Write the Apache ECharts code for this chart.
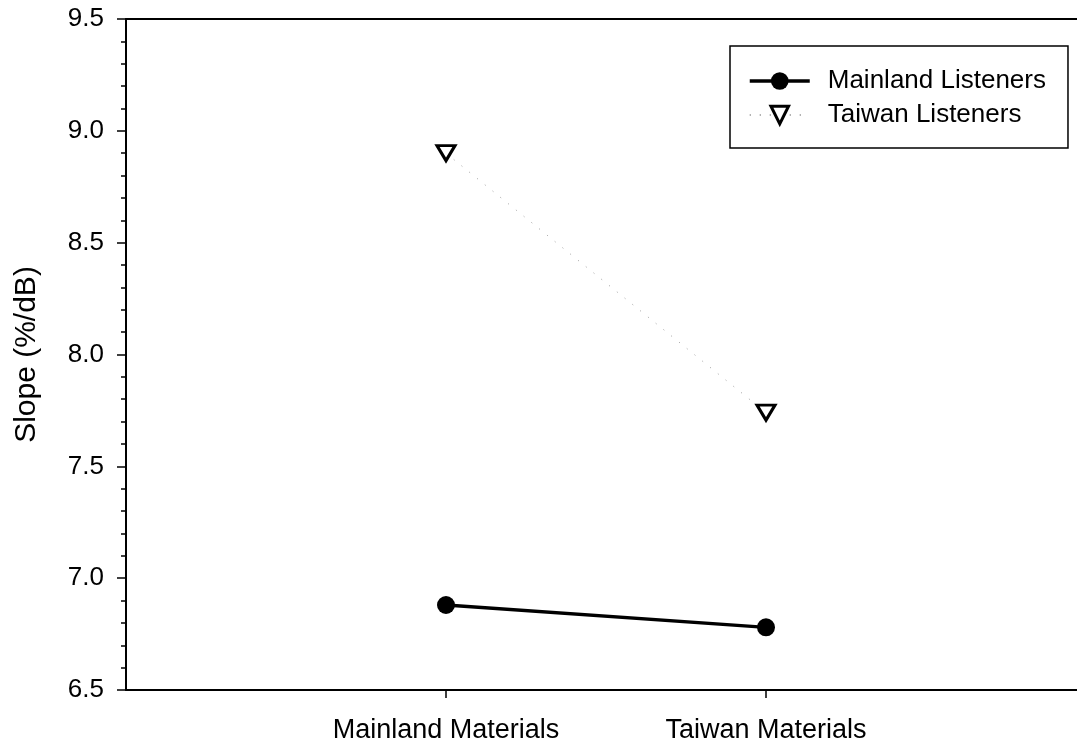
<!DOCTYPE html>
<html lang="en">
<head>
  <meta charset="UTF-8">
  <title>Slope by Materials - ECharts</title>
  <script src="https://cdn.jsdelivr.net/npm/echarts@6.0.0/dist/echarts.min.js"></script>
  <style>
    html, body { margin: 0; padding: 0; background: #fff; }
  </style>
</head>
<body>
  <!-- Chart container -->
  <div id="main" style="width: 1077px; height: 748px;"></div>

  <script>
    // Chart data
    const categories = ['Mainland Materials', 'Taiwan Materials'];
    const mainlandListeners = [6.88, 6.78];
    const taiwanListeners = [8.90, 7.74];
    const yTicks = [6.5, 7.0, 7.5, 8.0, 8.5, 9.0, 9.5];

    const font = 'Liberation Sans, Arial, sans-serif';

    // categories sit at x = 1, 2; the plot runs past the right edge of the page
    const toPoints = vals => vals.map((v, i) => [i + 1, v]);
    const catPos = categories.map((c, i) => i + 1);

    let myChart = echarts.init(document.getElementById('main'));

    const axisLine = { show: true, lineStyle: { color: '#000', width: 2 } };
    const tickStyle = { color: '#000', width: 1.5 };

    const options = {
      animation: false,
      grid: { left: 126, top: 19, bottom: 58, right: 0 },
      legend: {
        orient: 'vertical',
        left: 730, top: 46,
        padding: [22, 22, 20, 18],
        itemWidth: 60, itemHeight: 22, itemGap: 8,
        borderColor: '#000', borderWidth: 1.5,
        textStyle: { fontFamily: font, fontSize: 26, lineHeight: 25, color: '#000', padding: [0, 0, 0, 13] },
        data: [
          { name: 'Mainland Listeners', lineStyle: { width: 3.5 } },
          { name: 'Taiwan Listeners', itemStyle: { borderWidth: 3 } }
        ]
      },
      xAxis: [
        {
          type: 'value', min: 0, max: 951 / 320,
          splitLine: { show: false },
          axisLine: axisLine,
          axisTick: { show: true, customValues: catPos, length: 8, lineStyle: tickStyle },
          axisLabel: {
            customValues: catPos,
            formatter: v => categories[Math.round(v) - 1] || '',
            margin: 27, fontFamily: font, fontSize: 27, color: '#000'
          }
        },
        {
          // top frame line only
          type: 'value', position: 'top', min: 0, max: 951 / 320,
          splitLine: { show: false },
          axisLine: axisLine,
          axisTick: { show: false },
          axisLabel: { show: false }
        }
      ],
      yAxis: {
        type: 'value', min: yTicks[0], max: yTicks[yTicks.length - 1], interval: 0.5,
        name: 'Slope (%/dB)', nameLocation: 'middle', nameGap: 84,
        nameTextStyle: { fontFamily: font, fontSize: 30, color: '#000' },
        splitLine: { show: false },
        axisLine: axisLine,
        axisTick: { show: true, length: 9, lineStyle: tickStyle },
        minorTick: { show: true, splitNumber: 5, length: 5, lineStyle: tickStyle },
        axisLabel: {
          formatter: v => v.toFixed(1),
          margin: 22, fontFamily: font, fontSize: 26, color: '#000'
        }
      },
      series: [
        {
          name: 'Mainland Listeners',
          type: 'line',
          data: toPoints(mainlandListeners),
          symbol: 'circle', symbolSize: 18,
          lineStyle: { color: '#000', width: 3.5 },
          itemStyle: { color: '#000' },
          z: 3
        },
        {
          name: 'Taiwan Listeners',
          type: 'line',
          data: toPoints(taiwanListeners),
          symbol: 'triangle', symbolSize: [18, 15], symbolRotate: 180,
          lineStyle: { color: '#999', width: 1, type: [1, 9] },
          itemStyle: { color: '#fff', borderColor: '#000', borderWidth: 3 },
          z: 2
        }
      ]
    };

    myChart.setOption(options);
  </script>
</body>
</html>
